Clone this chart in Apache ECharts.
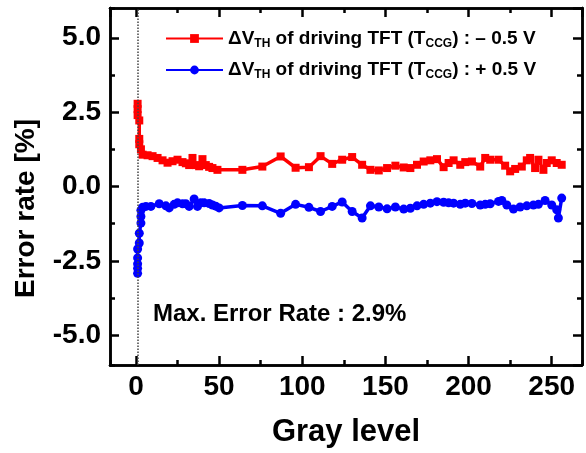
<!DOCTYPE html>
<html>
<head>
<meta charset="utf-8">
<script src="https://cdn.jsdelivr.net/npm/echarts@6/dist/echarts.min.js"></script>
<style>html,body{margin:0;padding:0;background:#fff}#c{width:586px;height:453px}</style>
</head>
<body>
<div id="c"></div>
<script>
// ---- data ----
var redX = [1,1,1,2,2,2,3,4,7,10,13,16,19,22,25,28,30,32,34,36,38,40,42,44,46,49,64,76,87,96,104,111,118,124,130,136,141,146,151,156,161,165,169,173,177,181,185,188,191,195,198,202,207,210,213,218,222,225,228,232,235,237,240,242,245,247,250,253,256];
var redY = [2.78,2.6,2.4,2.22,1.6,1.42,1.25,1.07,1.05,1.02,0.96,0.88,0.8,0.85,0.9,0.82,0.78,0.72,0.96,0.72,0.68,0.92,0.72,0.66,0.62,0.56,0.56,0.67,1.01,0.63,0.65,1.02,0.76,0.9,0.99,0.73,0.56,0.54,0.62,0.7,0.64,0.62,0.73,0.84,0.88,0.92,0.65,0.79,0.88,0.73,0.82,0.84,0.67,0.96,0.9,0.9,0.7,0.51,0.59,0.67,0.88,0.96,0.62,0.9,0.56,0.79,0.88,0.79,0.73];
var blueX = [1,1,1,1,1,2,2,3,3,3,4,6,9,14,18,20,23,25,28,30,32,35,37,39,41,44,46,48,50,64,76,87,96,104,111,118,124,130,136,141,146,151,156,161,165,169,173,177,181,185,188,191,195,198,202,207,210,213,218,220,223,227,231,235,239,242,246,250,253,254,256];
var blueY = [-2.92,-2.75,-2.6,-2.4,-2.1,-1.9,-1.57,-1.23,-1.01,-0.8,-0.7,-0.67,-0.67,-0.58,-0.65,-0.72,-0.6,-0.55,-0.58,-0.58,-0.67,-0.42,-0.67,-0.55,-0.55,-0.57,-0.62,-0.66,-0.72,-0.64,-0.65,-0.9,-0.6,-0.7,-0.84,-0.67,-0.52,-0.84,-1.06,-0.65,-0.69,-0.75,-0.69,-0.76,-0.73,-0.65,-0.6,-0.56,-0.51,-0.53,-0.55,-0.56,-0.6,-0.56,-0.57,-0.62,-0.6,-0.58,-0.5,-0.47,-0.62,-0.76,-0.69,-0.65,-0.62,-0.6,-0.47,-0.62,-0.78,-1.06,-0.39];
var xTicks = [0,50,100,150,200,250];
var yTicks = [-5,-2.5,0,2.5,5];
var xMinorStep = 25;
var yMinorStep = 1.25;
var markerGray = 1;
var redName = 'ΔVTH of driving TFT (TCCG) : – 0.5 V';
var blueName = 'ΔVTH of driving TFT (TCCG) : + 0.5 V';
var legendRich = {
  red: ['{a|ΔV}{s|TH}{a| of driving TFT (T}{s|CCG}{a|) : – 0.5 V}'],
  blue: ['{a|ΔV}{s|TH}{a| of driving TFT (T}{s|CCG}{a|) : + 0.5 V}']
};
var noteText = 'Max. Error Rate : 2.9%';
var xTitle = 'Gray level';
var yTitle = 'Error rate [%]';

function pairs(xs, ys){ return xs.map(function(x,i){ return [x, ys[i]]; }); }
function near(list, v){ for (var i=0;i<list.length;i++){ if (Math.abs(list[i]-v) < 1e-6) return true; } return false; }

var FONT = '"Liberation Sans", Arial, sans-serif';
var XMIN = -15.6, XMAX = 268.2, YMIN = -6, YMAX = 6;
var lineW = 2.5;
var TICKC = '#000';
function gridBox(){ return {left:110, right:4, top:8, bottom:88}; }
var xStep = xTicks[1]-xTicks[0], yStep = yTicks[1]-yTicks[0];

function xAx(grid, pos, step, len, labels){
  var o = {
    type:'value', gridIndex:grid, position:pos, min:XMIN, max:XMAX,
    minInterval:step, maxInterval:step,
    axisLine:{show:true, onZero:false, lineStyle:{color:'#000', width:lineW}},
    axisTick:{show:true, inside:true, length:len, lineStyle:{color:TICKC, width:2.5}},
    axisLabel:{show:false},
    splitLine:{show:false}
  };
  if (labels) {
    o.name = xTitle; o.nameLocation = 'middle'; o.nameGap = 52;
    o.nameTextStyle = {fontFamily:FONT, fontWeight:'bold', fontSize:31, color:'#000'};
    o.axisLabel = {show:true, showMinLabel:false, showMaxLabel:false, margin:8, fontFamily:FONT, fontWeight:'bold', fontSize:28, color:'#000',
      formatter:function(v){ return near(xTicks, v) ? String(v) : ''; }};
  }
  return o;
}
function yAx(grid, pos, step, len, labels){
  var o = {
    type:'value', gridIndex:grid, position:pos, min:YMIN, max:YMAX,
    minInterval:step, maxInterval:step,
    axisLine:{show:true, onZero:false, lineStyle:{color:'#000', width:lineW}},
    axisTick:{show:true, inside:true, length:len, lineStyle:{color:TICKC, width:2.5}},
    axisLabel:{show:false},
    splitLine:{show:false}
  };
  if (labels) {
    o.name = yTitle; o.nameLocation = 'middle'; o.nameGap = 70;
    o.nameTextStyle = {fontFamily:FONT, fontWeight:'bold', fontSize:28, color:'#000', padding:[0,44,0,0]};
    o.axisLabel = {show:true, showMinLabel:false, showMaxLabel:false, margin:9, fontFamily:FONT, fontWeight:'bold', fontSize:28, color:'#000',
      formatter:function(v){ return near(yTicks, v) ? Number(v).toFixed(1) : ''; }};
  }
  return o;
}

var chart = echarts.init(document.getElementById('c'));
chart.setOption({
  animation:false,
  grid:[gridBox(), gridBox()],
  xAxis:[ xAx(0,'bottom', xStep, 9, true), xAx(0,'top', xStep, 9, false), xAx(1,'bottom', xMinorStep, 5, false), xAx(1,'top', xMinorStep, 5, false) ],
  yAxis:[ yAx(0,'left', yStep, 9, true), yAx(0,'right', yStep, 9, false), yAx(1,'left', yMinorStep, 5, false), yAx(1,'right', yMinorStep, 5, false) ],
  legend:{
    orient:'vertical', left:160, top:24, itemWidth:57, itemHeight:11, itemGap:11,
    data:[redName, blueName],
    formatter:function(n){ return n === redName ? legendRich.red[0] : legendRich.blue[0]; },
    textStyle:{
      color:'#000', fontFamily:FONT, fontWeight:'bold',
      rich:{
        a:{fontSize:19, fontWeight:'bold', fontFamily:FONT, color:'#000', lineHeight:22},
        s:{fontSize:12, fontWeight:'bold', fontFamily:FONT, color:'#000', lineHeight:12, verticalAlign:'bottom'}
      }
    }
  },
  graphic:[{
    type:'text', left:153, top:302,
    style:{text:noteText, fontFamily:FONT, fontWeight:'bold', fontSize:24, fill:'#000'}
  }],
  series:[
    {
      name:redName, type:'line', xAxisIndex:0, yAxisIndex:0,
      data:pairs(redX, redY), symbol:'rect', symbolSize:8,
      itemStyle:{color:'#ff0000'}, lineStyle:{color:'#ff0000', width:3.5},
      markLine:{
        silent:true, symbol:'none', label:{show:false},
        lineStyle:{color:'#444', type:'dotted', width:1.5},
        data:[{xAxis:markerGray}]
      }
    },
    {
      name:blueName, type:'line', xAxisIndex:0, yAxisIndex:0,
      data:pairs(blueX, blueY), symbol:'circle', symbolSize:9,
      itemStyle:{color:'#0000ff'}, lineStyle:{color:'#0000ff', width:3.5}
    }
  ]
});
</script>
</body>
</html>
